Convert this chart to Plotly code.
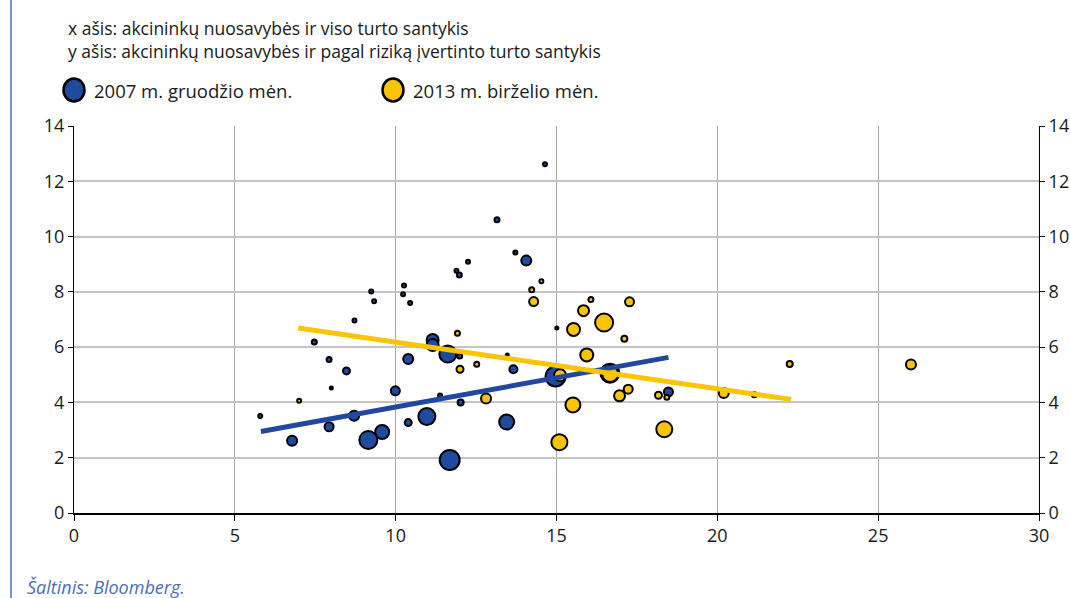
import plotly.graph_objects as go

# ---- data ----
x_2007 = [5.79, 6.78, 7.47, 7.93, 8.00, 8.47, 7.93, 8.71, 8.72, 9.15, 9.58, 9.24, 9.33, 9.99,
          10.26, 10.23, 10.45, 10.39, 10.39, 10.97, 11.15, 11.15, 11.38, 11.62, 11.68, 11.89,
          11.98, 11.99, 12.02, 12.25, 13.15, 13.45, 13.47, 13.66, 13.72, 14.06, 14.64, 14.97,
          15.01, 16.66, 18.48]
y_2007 = [3.51, 2.61, 6.19, 5.55, 4.52, 5.14, 3.12, 3.52, 6.96, 2.64, 2.93, 8.01, 7.66, 4.42,
          8.23, 7.91, 7.60, 5.57, 3.27, 3.49, 6.26, 6.08, 4.25, 5.75, 1.92, 8.76,
          8.61, 5.68, 4.00, 9.09, 10.61, 3.29, 5.72, 5.20, 9.42, 9.13, 12.62, 4.94,
          6.69, 5.06, 4.38]
s_2007 = [4, 10, 5, 5, 3, 7, 9, 10, 4, 18, 14, 4, 4, 9,
          4, 4, 4, 10, 7, 17, 12, 12, 4, 17, 20, 4,
          5, 5, 6, 4, 5, 15, 3, 8, 4, 10, 4, 20,
          3, 19, 9]

x_2013 = [7.00, 11.92, 12.00, 12.52, 12.81, 14.23, 14.53, 14.29, 15.11, 15.09, 15.51, 15.53,
          15.84, 15.94, 16.07, 16.48, 16.67, 16.96, 17.11, 17.23, 17.27, 18.17, 18.43, 18.35,
          20.20, 21.15, 22.25, 26.02]
y_2013 = [4.06, 6.50, 5.20, 5.38, 4.14, 8.08, 8.38, 7.65, 4.98, 2.56, 3.91, 6.64,
          7.32, 5.72, 7.72, 6.89, 5.03, 4.24, 6.30, 4.48, 7.64, 4.26, 4.19, 3.03,
          4.34, 4.28, 5.39, 5.37]
s_2013 = [4, 5, 7, 5, 10, 5, 4, 9, 12, 16, 15, 13,
          11, 13, 5, 18, 16, 11, 6, 9, 9, 7, 5, 16,
          10, 5, 6, 10]

trend_x_2007 = [5.81, 18.48]
trend_y_2007 = [2.95, 5.63]
trend_x_2013 = [6.97, 22.29]
trend_y_2013 = [6.69, 4.11]

x_ticks = [0, 5, 10, 15, 20, 25, 30]
y_ticks = [0, 2, 4, 6, 8, 10, 12, 14]

name_2007 = "2007 m. gruodžio mėn."
name_2013 = "2013 m. birželio mėn."
title_lines = ["x ašis: akcininkų nuosavybės ir viso turto santykis",
               "y ašis: akcininkų nuosavybės ir pagal riziką įvertinto turto santykis"]
source_text = "Šaltinis: Bloomberg."

BLUE = "#1f4b9e"
YELLOW = "#fbc400"
FONT = "Open Sans"

fig = go.Figure()
fig.add_trace(go.Scatter(x=x_2007, y=y_2007, mode="markers", name=name_2007,
                         marker=dict(size=s_2007, color=BLUE, opacity=1,
                                     line=dict(color="black", width=2)),
                         showlegend=False))
fig.add_trace(go.Scatter(x=x_2013, y=y_2013, mode="markers", name=name_2013,
                         marker=dict(size=s_2013, color=YELLOW, opacity=1,
                                     line=dict(color="black", width=2)),
                         showlegend=False))
fig.add_trace(go.Scatter(x=trend_x_2007, y=trend_y_2007, mode="lines",
                         line=dict(color="#2147a0", width=5), showlegend=False))
fig.add_trace(go.Scatter(x=trend_x_2013, y=trend_y_2013, mode="lines", yaxis="y2",
                         line=dict(color=YELLOW, width=5), showlegend=False))

axis_font = dict(family=FONT, size=18, color="#1a1a1a")
fig.update_layout(
    width=1070, height=598,
    margin=dict(l=74, r=31, t=126, b=85, autoexpand=False),
    paper_bgcolor="white", plot_bgcolor="white",
    font=dict(family=FONT, color="#1a1a1a"),
    xaxis=dict(range=[0, 30], tickvals=x_ticks, showgrid=True, gridcolor="#a8a8a8", gridwidth=1,
               showline=True, linecolor="black", linewidth=1.5, ticks="outside", ticklen=6,
               tickcolor="black", tickfont=axis_font, zeroline=False, automargin=False),
    yaxis=dict(range=[0, 14], tickvals=y_ticks, showgrid=True, gridcolor="#c4c4c4", gridwidth=1.5,
               showline=True, linecolor="black", linewidth=1, ticks="outside", ticklen=5,
               tickcolor="black", tickfont=axis_font, zeroline=False, automargin=False),
    yaxis2=dict(range=[0, 14], tickvals=y_ticks, overlaying="y", side="right", showgrid=False,
                showline=True, linecolor="black", linewidth=1, ticks="outside", ticklen=5,
                tickcolor="black", tickfont=axis_font, zeroline=False, automargin=False),
    showlegend=False,
)

# title text (two lines)
fig.add_annotation(text="<br>".join(title_lines), xref="paper", yref="paper",
                   x=-0.0083, y=1.29, xanchor="left", yanchor="top", align="left",
                   showarrow=False, font=dict(family=FONT, size=17.5, color="#1a1a1a"))

# custom legend
leg_y = (513.3 - 90) / 387.3
for cx, col, txt in [(74, BLUE, name_2007), (393, YELLOW, name_2013)]:
    px = (cx - 74) / 965
    fig.add_shape(type="circle", xref="paper", yref="paper", xsizemode="pixel", ysizemode="pixel",
                  xanchor=px, yanchor=leg_y, x0=-10.5, x1=10.5, y0=-11.5, y1=11.5,
                  fillcolor=col, line=dict(color="black", width=2.5))
    fig.add_annotation(text=txt, xref="paper", yref="paper", x=px + 18 / 965, y=leg_y,
                       xanchor="left", yanchor="middle", showarrow=False,
                       font=dict(family=FONT, size=18.5, color="#1a1a1a"))

# left decorative blue border
fig.add_shape(type="line", xref="paper", yref="paper", x0=-0.0653, x1=-0.0653,
              y0=1.33, y1=-0.25, line=dict(color="#4a6fb8", width=1.5))

# source
fig.add_annotation(text="<i>" + source_text + "</i>", xref="paper", yref="paper",
                   x=(25 - 74) / 965, y=(513.3 - 587) / 387.3, xanchor="left", yanchor="middle",
                   showarrow=False, font=dict(family=FONT, size=18, color="#4a6fb8"))

fig.write_html("out.html", config={"displayModeBar": False},
               post_script="document.body.style.margin='0';document.body.style.overflow='hidden';")
